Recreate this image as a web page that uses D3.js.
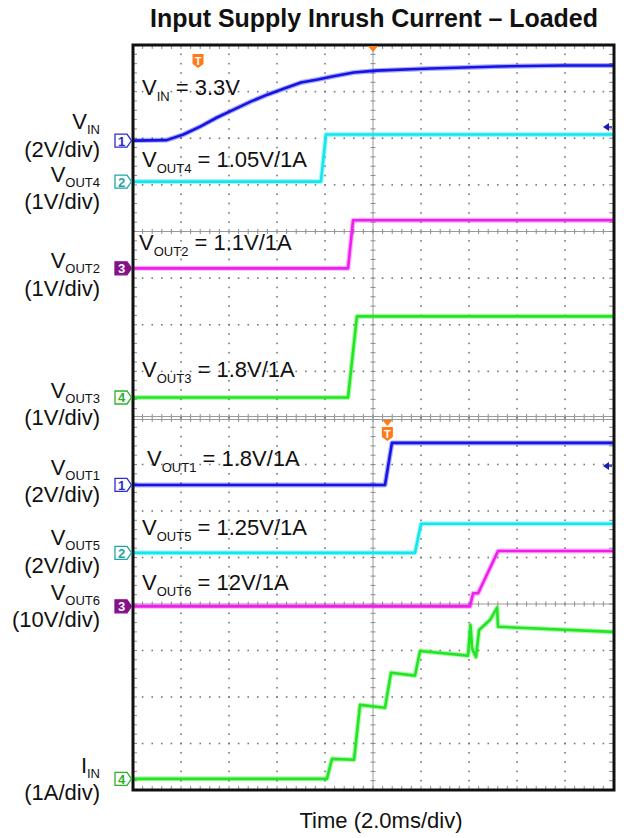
<!DOCTYPE html>
<html>
<head>
<meta charset="utf-8">
<script src="https://cdn.jsdelivr.net/npm/d3@7"></script>
<style>
  body { margin: 0; background: #fff; }
  text { font-family: "Liberation Sans", Arial, sans-serif; fill: #111; }
</style>
</head>
<body>
<svg id="chart" width="627" height="838"></svg>
<script>
// time in ms from left edge of screen (2 ms/div, 10 div)
var vinT   = [0, 1.4, 2.1, 2.8, 3.5, 4.2, 4.9, 5.6, 6.3, 7.0, 7.7, 8.3, 9.2, 10.1, 12.4, 15.2, 17.9, 20];
var vinV   = [0, 0.02, 0.26, 0.60, 0.99, 1.33, 1.67, 1.97, 2.23, 2.49, 2.62, 2.75, 2.92, 3.00, 3.09, 3.18, 3.22, 3.22];
var vout4T = [0, 7.83, 8.04, 20];
var vout4V = [0, 0, 1.01, 1.01];
var vout2T = [0, 8.96, 9.17, 20];
var vout2V = [0, 0, 1.03, 1.03];
var vout3T = [0, 8.96, 9.33, 20];
var vout3V = [0, 0, 1.74, 1.74];
var vout1T = [0, 10.5, 10.79, 20];
var vout1V = [0, 0, 1.81, 1.81];
var vout5T = [0, 11.75, 12.0, 20];
var vout5V = [0, 0, 1.25, 1.25];
var vout6T = [0, 14.04, 14.17, 14.38, 15.21, 20];
var vout6V = [0, 0, 2.8, 2.8, 11.9, 11.9];
var iinT   = [0, 8.08, 8.29, 9.21, 9.46, 10.5, 10.75, 11.75, 11.96, 13.96, 14.06, 14.13, 14.29, 14.42, 14.88, 15.17, 15.21, 20];
var iinA   = [0, 0, 0.43, 0.41, 1.59, 1.53, 2.28, 2.22, 2.75, 2.65, 3.31, 2.8, 2.62, 3.2, 3.42, 3.68, 3.27, 3.16];

var title = "Input Supply Inrush Current \u2013 Loaded";
var xTitle = "Time (2.0ms/div)";

// channel setup: panel, channel number, offset (div), scale (per div)
var channels = [
  {panel: 0, ch: 1, off: 1.95,  per: 2,  t: vinT,   v: vinV,   name: "IN",   div: "(2V/div)",  note: "= 3.3V"},
  {panel: 0, ch: 2, off: 1.07,  per: 1,  t: vout4T, v: vout4V, name: "OUT4", div: "(1V/div)",  note: "= 1.05V/1A"},
  {panel: 0, ch: 3, off: -0.79, per: 1,  t: vout2T, v: vout2V, name: "OUT2", div: "(1V/div)",  note: "= 1.1V/1A"},
  {panel: 0, ch: 4, off: -3.56, per: 1,  t: vout3T, v: vout3V, name: "OUT3", div: "(1V/div)",  note: "= 1.8V/1A"},
  {panel: 1, ch: 1, off: 2.56,  per: 2,  t: vout1T, v: vout1V, name: "OUT1", div: "(2V/div)",  note: "= 1.8V/1A"},
  {panel: 1, ch: 2, off: 1.10,  per: 2,  t: vout5T, v: vout5V, name: "OUT5", div: "(2V/div)",  note: "= 1.25V/1A"},
  {panel: 1, ch: 3, off: -0.05, per: 10, t: vout6T, v: vout6V, name: "OUT6", div: "(10V/div)", note: "= 12V/1A"},
  {panel: 1, ch: 4, off: -3.76, per: 1,  t: iinT,   v: iinA,   name: "IN",   div: "(1A/div)",  note: null, lead: "I"}
];
// left label baselines and inline label positions
var leftY   = [129, 182, 268, 398, 475, 545, 600, 773];
var divY    = [157, 209, 296, 425, 502, 573, 627, 800];
var noteX   = [142, 142, 139, 142, 147, 142, 142];
var noteY   = [95, 167, 250, 377, 466, 535, 590];

var traceColor  = {1: "#1414e6", 2: "#12e6ee", 3: "#f01cf0", 4: "#22e622"};
var markerColor = {1: "#2b2bd0", 2: "#1fa5a5", 3: "#85108a", 4: "#2eb02e"};

var svg = d3.select("#chart");
var left = 133, right = 613;
var x = d3.scaleLinear().domain([0, 20]).range([left, right]);
var panels = [
  d3.scaleLinear().domain([-4, 4]).range([418, 45]),
  d3.scaleLinear().domain([-4, 4]).range([790, 418])
];

// graticule
panels.forEach(function(y, p) {
  var g = svg.append("g");
  var dots = [];
  d3.range(1, 10).forEach(function(k) {
    if (k == 5) return;
    d3.range(-20, 21).forEach(function(m) {
      dots.push([x(k * 2), y(m / 5)]);
    });
  });
  d3.range(-3, 4).forEach(function(j) {
    if (j == 0) return;
    d3.range(0, 51).forEach(function(m) {
      dots.push([x(m * 0.4), y(j)]);
    });
  });
  g.selectAll("rect.dot").data(dots).enter().append("rect")
    .attr("x", function(d) { return d[0] - 0.8; })
    .attr("y", function(d) { return d[1] - 0.8; })
    .attr("width", 1.6).attr("height", 1.6)
    .attr("fill", "#777");

  // center lines
  g.append("line").attr("x1", x(0)).attr("x2", x(20)).attr("y1", y(0)).attr("y2", y(0))
    .attr("stroke", "#9a9a9a").attr("stroke-width", 1);
  g.append("line").attr("x1", x(10)).attr("x2", x(10)).attr("y1", y(-4)).attr("y2", y(4))
    .attr("stroke", "#9a9a9a").attr("stroke-width", 1);

  var ticks = [];
  d3.range(1, 50).forEach(function(m) {
    var tx = x(m * 0.4);
    ticks.push([tx, y(0) - 2.5, tx, y(0) + 2.5]);
    ticks.push([tx, y(4), tx, y(4) + 4]);
    ticks.push([tx, y(-4) - 4, tx, y(-4)]);
  });
  d3.range(-19, 20).forEach(function(m) {
    var ty = y(m / 5);
    ticks.push([x(10) - 2.5, ty, x(10) + 2.5, ty]);
    ticks.push([x(0), ty, x(0) + 4, ty]);
    ticks.push([x(20) - 4, ty, x(20), ty]);
  });
  g.selectAll("line.tick").data(ticks).enter().append("line")
    .attr("x1", function(d) { return d[0]; }).attr("y1", function(d) { return d[1]; })
    .attr("x2", function(d) { return d[2]; }).attr("y2", function(d) { return d[3]; })
    .attr("stroke", "#8a8a8a").attr("stroke-width", 1);
});

// separator between the two screens
svg.append("line").attr("x1", left).attr("x2", right).attr("y1", 416.5).attr("y2", 416.5)
  .attr("stroke", "#9a9a9a").attr("stroke-width", 1);
svg.append("line").attr("x1", left).attr("x2", right).attr("y1", 419.5).attr("y2", 419.5)
  .attr("stroke", "#9a9a9a").attr("stroke-width", 1);

// traces
channels.forEach(function(c) {
  var y = panels[c.panel];
  var pts = c.t.map(function(t, i) { return [t, c.v[i]]; });
  var line = d3.line()
    .x(function(d) { return x(d[0]); })
    .y(function(d) { return y(c.off + d[1] / c.per); });
  svg.append("path").attr("d", line(pts)).attr("fill", "none")
    .attr("stroke", traceColor[c.ch]).attr("stroke-width", 5).attr("stroke-opacity", 0.35)
    .attr("stroke-linejoin", "round");
  svg.append("path").attr("d", line(pts)).attr("fill", "none")
    .attr("stroke", traceColor[c.ch]).attr("stroke-width", 2.6)
    .attr("stroke-linejoin", "round");
});

// frame
svg.append("rect").attr("x", left).attr("y", 45).attr("width", right - left + 1).attr("height", 745)
  .attr("fill", "none").attr("stroke", "#111").attr("stroke-width", 3);

// channel markers on the left edge
channels.forEach(function(c) {
  var y0 = panels[c.panel](c.off);
  var col = markerColor[c.ch];
  var filled = c.ch == 3;
  svg.append("path")
    .attr("d", "M115," + (y0 - 6.5) + "H127L131.5," + y0 + "L127," + (y0 + 6.5) + "H115Z")
    .attr("fill", filled ? col : "#fff").attr("stroke", col).attr("stroke-width", 1.3);
  svg.append("text").attr("x", 121.5).attr("y", y0 + 5).attr("text-anchor", "middle")
    .style("font-size", "13px").style("font-weight", "bold")
    .style("fill", filled ? "#fff" : col).text(c.ch);
});

// left labels
channels.forEach(function(c, i) {
  var t = svg.append("text").attr("x", 100).attr("y", leftY[i]).attr("text-anchor", "end")
    .style("font-size", "22px");
  t.append("tspan").text(c.lead || "V");
  t.append("tspan").attr("dy", 5).style("font-size", "13px").text(c.name);
  svg.append("text").attr("x", 100).attr("y", divY[i]).attr("text-anchor", "end")
    .style("font-size", "22px").text(c.div);
});

// inline value notes
channels.forEach(function(c, i) {
  if (!c.note) return;
  var t = svg.append("text").attr("x", noteX[i]).attr("y", noteY[i]).style("font-size", "22px");
  t.append("tspan").text("V");
  t.append("tspan").attr("dy", 6).style("font-size", "13px").text(c.name);
  t.append("tspan").attr("dy", -6).text(" " + c.note);
});

// trigger markers
var orange = "#ff7a1a";
function tMark(cx, top) {
  svg.append("path")
    .attr("d", "M" + (cx - 5.5) + "," + top + "H" + (cx + 5.5) + "V" + (top + 10) + "L" + cx + "," + (top + 14) + "L" + (cx - 5.5) + "," + (top + 10) + "Z")
    .attr("fill", orange);
  svg.append("text").attr("x", cx).attr("y", top + 10.5).attr("text-anchor", "middle")
    .style("font-size", "11px").style("font-weight", "bold").style("fill", "#fff").text("T");
}
function tTri(cx, top) {
  svg.append("path").attr("d", "M" + (cx - 5) + "," + top + "H" + (cx + 5) + "L" + cx + "," + (top + 6) + "Z")
    .attr("fill", orange);
}
tMark(x(2.71), 54);
tTri(x(10), 46);
tTri(x(10.6), 420);
tMark(x(10.6), 427);

// trigger level arrows on the right edge
[127, 466].forEach(function(ty) {
  svg.append("path").attr("d", "M603," + ty + "L609," + (ty - 4) + "V" + (ty + 4) + "Z").attr("fill", "#1a1ab4");
  svg.append("line").attr("x1", 608).attr("x2", 612).attr("y1", ty).attr("y2", ty)
    .attr("stroke", "#1a1ab4").attr("stroke-width", 1.5);
});

// title and axis label
svg.append("text").attr("x", 374).attr("y", 27).attr("text-anchor", "middle")
  .style("font-size", "25px").style("font-weight", "bold")
  .attr("textLength", 448).attr("lengthAdjust", "spacingAndGlyphs").text(title);
svg.append("text").attr("x", 381).attr("y", 828).attr("text-anchor", "middle")
  .style("font-size", "22px").text(xTitle);
</script>
</body>
</html>
